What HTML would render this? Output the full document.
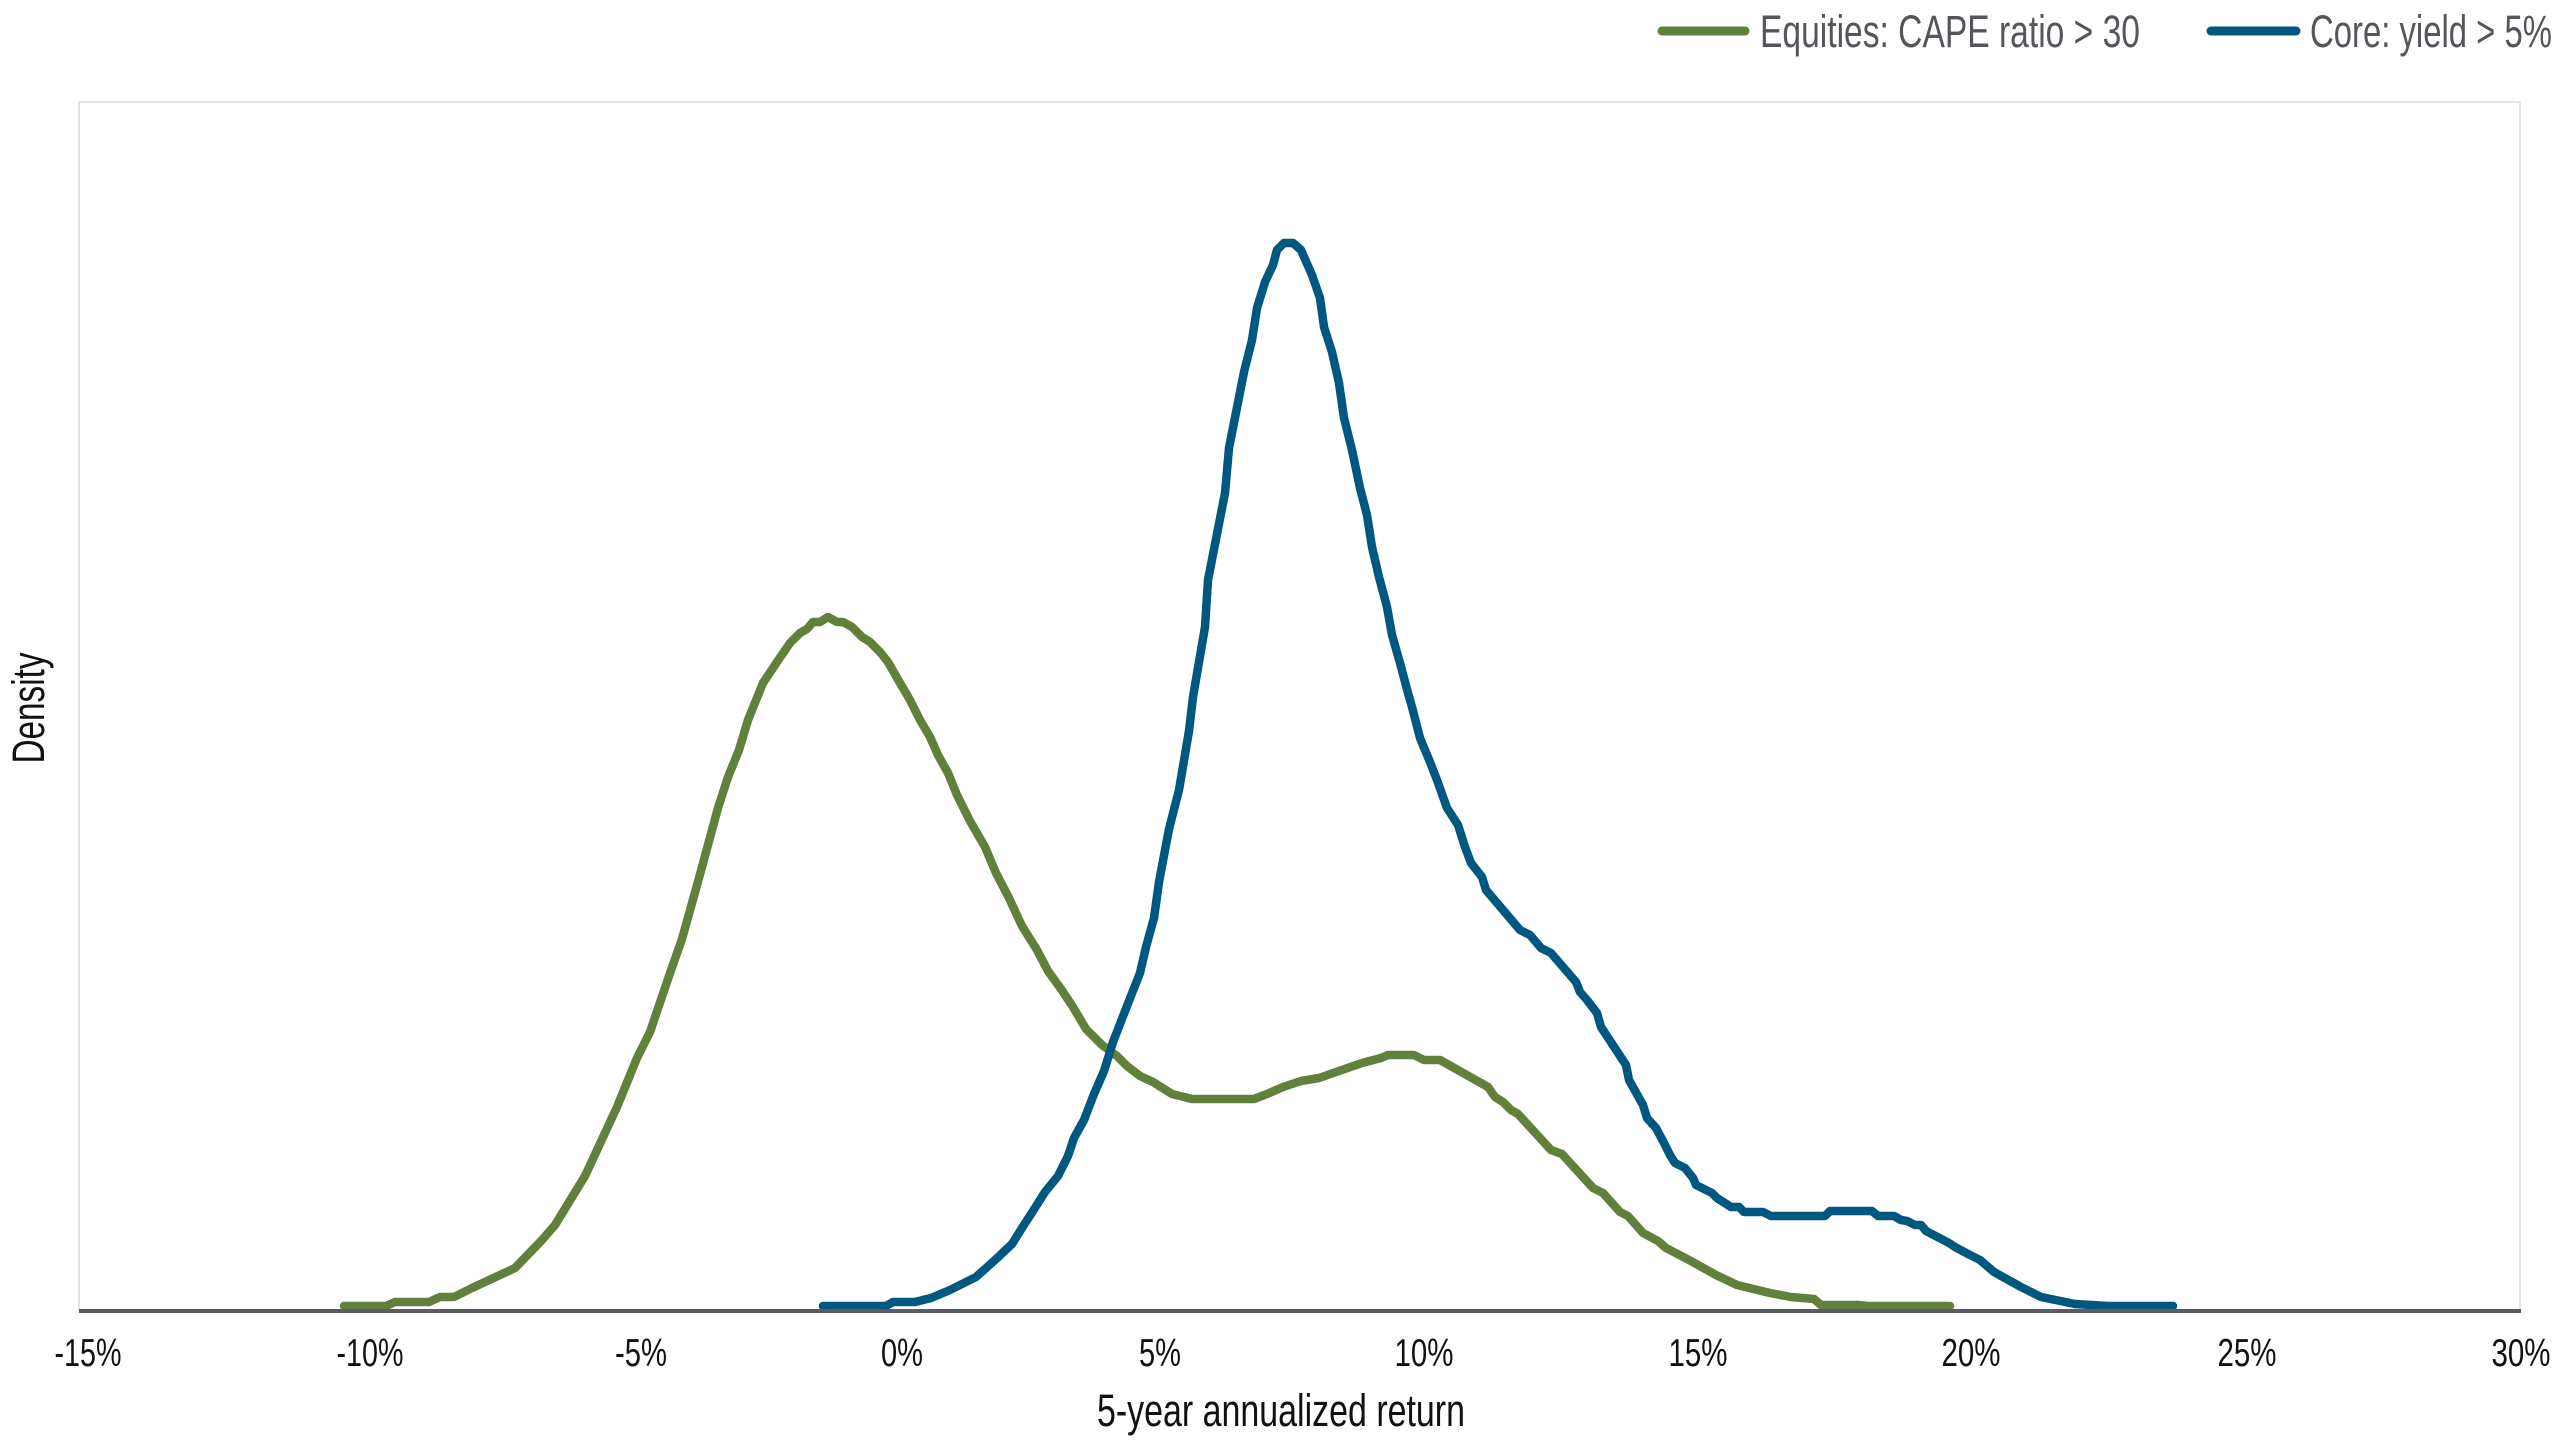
<!DOCTYPE html>
<html>
<head>
<meta charset="utf-8">
<style>
  html, body { margin: 0; padding: 0; background: #ffffff; }
  body { width: 2560px; height: 1440px; overflow: hidden; }
  svg { display: block; }
  text { font-family: "Liberation Sans", "DejaVu Sans", sans-serif; }
</style>
</head>
<body>
<svg width="2560" height="1440" viewBox="0 0 2560 1440" xmlns="http://www.w3.org/2000/svg">
  <rect x="0" y="0" width="2560" height="1440" fill="#ffffff"/>

  <!-- Legend -->
  <line x1="1662" y1="31" x2="1745" y2="31" stroke="#60803b" stroke-width="9" stroke-linecap="round"/>
  <text x="1760" y="47" font-size="45" fill="#53565a" textLength="380" lengthAdjust="spacingAndGlyphs">Equities: CAPE ratio &gt; 30</text>
  <line x1="2211" y1="31" x2="2296" y2="31" stroke="#005780" stroke-width="9" stroke-linecap="round"/>
  <text x="2310" y="47" font-size="45" fill="#53565a" textLength="242" lengthAdjust="spacingAndGlyphs">Core: yield &gt; 5%</text>

  <!-- Plot frame -->
  <rect x="79" y="102" width="2441" height="1208" fill="none" stroke="#e3e3e3" stroke-width="2"/>

  <!-- Green series -->
  <polyline fill="none" stroke="#60803b" stroke-width="8.5" stroke-linejoin="round" stroke-linecap="round"
    points="344,1306 386,1306 395,1302 429,1302 440,1297 454,1297 472,1288 515,1268 542,1240 555,1225 585,1176 617,1107 637,1058 650,1032 669,976 682,939 699,878 718,808 728,777 739,750 748,720 763,683 777,662 790,643 800,633 807,629 813,622 820,622 828,617 837,622 843,622 852,627 862,637 870,642 880,652 888,662 900,683 910,700 920,720 930,737 938,755 948,773 957,795 970,821 985,847 996,873 1009,898 1022,926 1037,950 1048,971 1061,989 1073,1007 1086,1029 1102,1045 1117,1056 1127,1066 1140,1076 1153,1082 1172,1094 1192,1099 1254,1099 1267,1094 1283,1087 1301,1081 1319,1078 1339,1071 1362,1063 1381,1058 1388,1055 1414,1055 1424,1060 1440,1060 1488,1087 1495,1097 1503,1102 1511,1110 1518,1114 1551,1150 1562,1154 1593,1188 1603,1193 1620,1212 1628,1216 1643,1233 1658,1241 1666,1248 1689,1260 1716,1275 1737,1285 1770,1293 1791,1297 1814,1299 1821,1305 1858,1305 1868,1306 1950,1306"/>

  <!-- Blue series -->
  <polyline fill="none" stroke="#005780" stroke-width="8.5" stroke-linejoin="round" stroke-linecap="round"
    points="823,1306 886,1306 893,1302 915,1302 931,1298 950,1290 976,1277 995,1260 1012,1244 1022,1228 1033,1211 1045,1192 1058,1176 1068,1156 1074,1138 1084,1120 1094,1094 1104,1071 1113,1042 1127,1006 1140,973 1146,947 1154,918 1159,882 1169,829 1179,790 1189,731 1193,697 1205,627 1208,580 1225,493 1229,448 1244,372 1252,340 1257,308 1265,282 1273,265 1277,250 1284,243 1293,243 1301,250 1312,275 1320,298 1324,327 1332,352 1339,383 1344,418 1352,450 1360,488 1367,515 1372,547 1379,577 1387,607 1392,635 1400,663 1408,693 1412,707 1420,738 1430,762 1437,780 1447,808 1458,825 1465,847 1471,863 1482,877 1486,890 1520,930 1530,935 1541,948 1551,953 1576,982 1580,992 1587,1000 1597,1013 1601,1027 1626,1065 1629,1080 1643,1105 1647,1118 1656,1128 1664,1143 1670,1155 1675,1163 1685,1168 1693,1178 1696,1185 1712,1193 1717,1198 1731,1207 1739,1207 1744,1212 1763,1212 1771,1216 1825,1216 1830,1211 1872,1211 1878,1216 1894,1216 1901,1220 1907,1221 1915,1225 1921,1225 1926,1231 1949,1243 1955,1247 1970,1255 1980,1260 1994,1272 2021,1287 2041,1297 2075,1304 2108,1306 2173,1306"/>

  <!-- Baseline -->
  <line x1="79" y1="1311" x2="2521" y2="1311" stroke="#585c65" stroke-width="4"/>

  <!-- X tick labels -->
  <g font-size="39" fill="#111111" text-anchor="middle">
    <text x="88" y="1366" textLength="67" lengthAdjust="spacingAndGlyphs">-15%</text>
    <text x="370" y="1366" textLength="67" lengthAdjust="spacingAndGlyphs">-10%</text>
    <text x="641" y="1366" textLength="52" lengthAdjust="spacingAndGlyphs">-5%</text>
    <text x="902" y="1366" textLength="42" lengthAdjust="spacingAndGlyphs">0%</text>
    <text x="1160" y="1366" textLength="42" lengthAdjust="spacingAndGlyphs">5%</text>
    <text x="1424" y="1366" textLength="59" lengthAdjust="spacingAndGlyphs">10%</text>
    <text x="1698" y="1366" textLength="59" lengthAdjust="spacingAndGlyphs">15%</text>
    <text x="1971" y="1366" textLength="59" lengthAdjust="spacingAndGlyphs">20%</text>
    <text x="2247" y="1366" textLength="59" lengthAdjust="spacingAndGlyphs">25%</text>
    <text x="2521" y="1366" textLength="59" lengthAdjust="spacingAndGlyphs">30%</text>
  </g>

  <!-- Axis titles -->
  <text x="1281" y="1426" font-size="45" fill="#111111" text-anchor="middle" textLength="368" lengthAdjust="spacingAndGlyphs">5-year annualized return</text>
  <text transform="translate(44,708) rotate(-90)" x="0" y="0" font-size="45" fill="#111111" text-anchor="middle" textLength="111" lengthAdjust="spacingAndGlyphs">Density</text>
</svg>
</body>
</html>
